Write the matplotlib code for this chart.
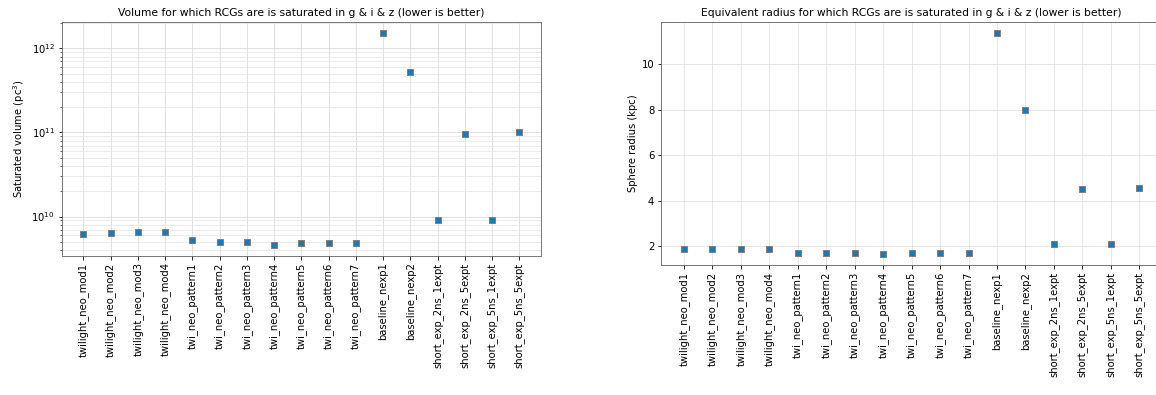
import matplotlib
matplotlib.use("Agg")
import matplotlib.pyplot as plt
import numpy as np

# survey strategies
strategies = ['twilight_neo_mod1', 'twilight_neo_mod2', 'twilight_neo_mod3', 'twilight_neo_mod4',
              'twi_neo_pattern1', 'twi_neo_pattern2', 'twi_neo_pattern3', 'twi_neo_pattern4',
              'twi_neo_pattern5', 'twi_neo_pattern6', 'twi_neo_pattern7',
              'baseline_nexp1', 'baseline_nexp2',
              'short_exp_2ns_1expt', 'short_exp_2ns_5expt', 'short_exp_5ns_1expt', 'short_exp_5ns_5expt']

# saturated volume (pc^3)
sat_volume = [6.2e9, 6.4e9, 6.6e9, 6.6e9,
              5.2e9, 5.0e9, 5.0e9, 4.6e9,
              4.85e9, 4.85e9, 4.85e9,
              1.53e12, 5.3e11,
              9.1e9, 9.6e10, 9.1e9, 1.0e11]

# equivalent sphere radius (kpc)
sphere_radius = [1.86, 1.86, 1.86, 1.86,
                 1.71, 1.71, 1.71, 1.66,
                 1.71, 1.71, 1.71,
                 11.37, 7.98,
                 2.10, 4.50, 2.10, 4.54]

W, H = 1156, 395
fig = plt.figure(figsize=(W / 72, H / 72), dpi=72)

# axes positions in pixels (left, top, right, bottom)
def px_axes(x0, y0, x1, y1):
    return fig.add_axes([x0 / W, 1 - y1 / H, (x1 - x0) / W, (y1 - y0) / H])

ax1 = px_axes(61.7, 22.3, 541, 255.5)
ax2 = px_axes(661.2, 22.3, 1162, 264.7)

x = np.arange(len(strategies))

for ax, vals in [(ax1, sat_volume), (ax2, sphere_radius)]:
    ax.plot(x, vals, 's', color='tab:blue', markeredgecolor='grey', markeredgewidth=1, markersize=6.5)
    ax.set_xticks(x)
    ax.set_xticklabels(strategies, rotation=90)
    for s in ax.spines.values():
        s.set_color('0.35')

ax1.set_yscale('log')
ax1.grid(True, which='major', color='0.85', linewidth=0.8)
ax1.grid(True, which='minor', axis='y', color='0.9', linewidth=0.8)
ax1.set_title('Volume for which RCGs are is saturated in g & i & z (lower is better)', fontsize=10.7)
ax1.set_ylabel('Saturated volume (pc$^3$)')

ax2.grid(True, color='0.88', linewidth=0.8)
ax2.set_title('Equivalent radius for which RCGs are is saturated in g & i & z (lower is better)', fontsize=10.7)
ax2.set_ylabel('Sphere radius (kpc)')

fig.savefig('out.png', dpi=72)
